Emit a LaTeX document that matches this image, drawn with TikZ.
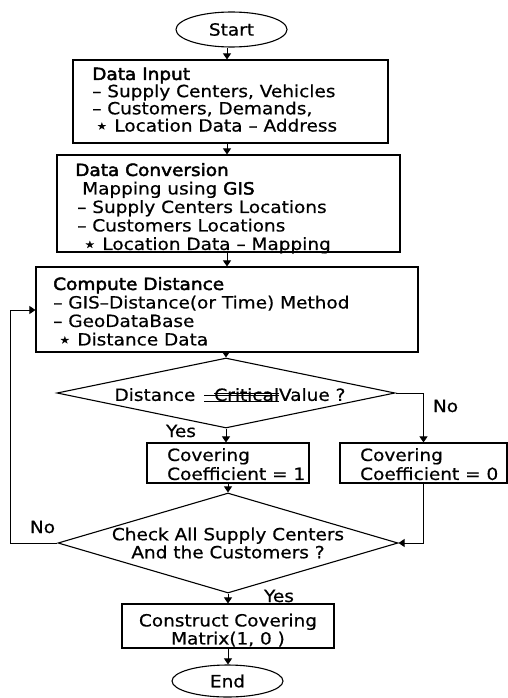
\documentclass[tikz,border=0pt]{standalone}
\usepackage{fontspec}
\setmainfont[FakeStretch=1.1,FakeBold=0.6]{DejaVu Sans}
\newfontfamily\hdfont[FakeStretch=1.1,FakeBold=2.6]{DejaVu Sans}
\usetikzlibrary{shapes.geometric,arrows.meta,calc}
\newcommand\hd[1]{{\hdfont #1}}
\newcommand\st{\raisebox{-0.8pt}{\scalebox{1.15}{⋆}}}
\newcommand\critx[1]{\setbox0\hbox{#1}%
  \makebox[0pt][l]{\kern-10pt\rule[-1pt]{\dimexpr\wd0+10pt\relax}{0.9pt}}%
  \makebox[0pt][l]{\kern-10pt\rule[4.5pt]{\dimexpr\wd0+10pt\relax}{0.9pt}}%
  \makebox[0pt][l]{\rule[6.8pt]{\wd0}{0.9pt}}%
  \box0}
\begin{document}
\begin{tikzpicture}[x=1pt,y=-1pt,
  every node/.style={font=\fontsize{16.8}{18.5}\selectfont, inner sep=0pt},
  boxnode/.style={draw, rectangle, line width=1.1pt, inner sep=0pt},
  term/.style={draw, ellipse, line width=1.1pt, minimum width=111pt, minimum height=35pt},
  decis/.style={draw, diamond, line width=1.1pt, inner sep=0pt},
  txt/.style={align=left, anchor=north west},
  arr/.style={-{Triangle[length=6pt,width=8pt]}, line width=0.9pt}]
\useasboundingbox (0,0) rectangle (508,698);
\coordinate (spine) at (227,0);
% terminals
\node[term] (start) at (231.5,29.5) {Start};
\node[term, minimum height=32pt] (end) at (227.5,681) {End};
% boxes
\node[boxnode, minimum width=315pt, minimum height=83pt] (di) at (230.5,101.5) {};
\node[txt, font=\fontsize{16.8}{17.2}\selectfont] (dit) at (92,67.5)
  {\hd{Data Input}\\– Supply Centers, Vehicles\\– Customers, Demands,\\\hspace*{3pt}\st\ Location Data – Address};
\node[boxnode, minimum width=343pt, minimum height=97pt] (dc) at (228.5,203.5) {};
\node[txt] (dct) at (75,163)
  {\hd{Data Conversion}\\\hspace*{7pt}Mapping using \hd{GIS}\\\hspace*{2pt}– Supply Centers Locations\\\hspace*{2pt}– Customers Locations\\\hspace*{8pt}\st\ Location Data – Mapping};
\node[boxnode, minimum width=382pt, minimum height=85pt] (cd) at (227,309.5) {};
\node[txt] (cdt) at (53,277)
  {\hd{Compute Distance}\\– GIS–Distance(or Time) Method\\– GeoDataBase\\\hspace*{5pt}\st\ Distance Data};
% first decision
\node[decis, minimum width=338pt, minimum height=70pt] (d1) at (226,393) {};
\node (d1t) at (230,395) {Distance\hspace{19pt}\critx{Critical}Value ?};
% covering boxes
\node[boxnode, minimum width=162pt, minimum height=40pt] (cov1) at (228,463) {};
\node[txt, font=\fontsize{16.8}{19}\selectfont] (cov1t) at (167,448) {Covering\\Coefficient = 1};
\node[boxnode, minimum width=167pt, minimum height=40pt] (cov0) at (423.5,463) {};
\node[txt, font=\fontsize{16.8}{19}\selectfont] (cov0t) at (360,448) {Covering\\Coefficient = 0};
% second decision
\node[decis, minimum width=340pt, minimum height=100pt] (d2) at (228,543) {};
\node[align=center, font=\fontsize{16.8}{18}\selectfont] (d2t) at (228,543) {Check All Supply Centers\\And the Customers ?};
% construct
\node[boxnode, minimum width=212pt, minimum height=44pt] (cons) at (228,626) {};
\node[align=center, anchor=north, font=\fontsize{16.8}{18}\selectfont] (const) at (228,613.5) {Construct Covering\\Matrix(1, 0 )};
% labels
\node (yes1) at (181,431) {Yes};
\node (no1) at (445.5,406) {No};
\node (no2) at (42.5,527) {No};
\node (yes2) at (279,596) {Yes};
\coordinate (lp) at (10,310);
% connectors
\draw[arr] (start.south -| spine) -- (di.north -| spine);
\draw[arr] (di.south -| spine) -- (dc.north -| spine);
\draw[arr] (dc.south -| spine) -- (cd.north -| spine);
\draw[arr] (cd.south -| d1.north) -- (d1.north);
\draw[arr] (d1.south) -- (cov1.north -| d1.south);
\draw[arr] (cov1.south) -- (d2.north);
\draw[arr] (d1.east) -| (cov0.north);
\draw[arr] (cov0.south) |- (d2.east);
\draw[arr] (d2.west) -| (lp) -- (cd.west |- lp);
\draw[arr] (d2.south) -- (cons.north);
\draw[arr] (cons.south) -- (cons.south |- end.north);
\end{tikzpicture}
\end{document}
